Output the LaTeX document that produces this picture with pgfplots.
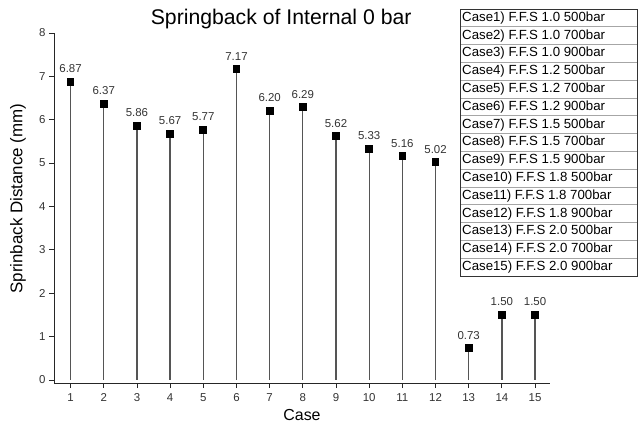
\documentclass[border=0pt]{standalone}
\usepackage{fontspec}
\setmainfont{Liberation Sans}
\usepackage{pgfplots}
\pgfplotsset{compat=1.18}
\usepackage{pgfplotstable}

\definecolor{stem}{HTML}{555555}
\definecolor{tick}{HTML}{333333}

% springback distance per case (mm)
\pgfplotstableread{
case dist
1  6.87
2  6.37
3  5.86
4  5.67
5  5.77
6  7.17
7  6.20
8  6.29
9  5.62
10 5.33
11 5.16
12 5.02
13 0.73
14 1.50
15 1.50
}\springback

\begin{document}
\begin{tikzpicture}
\path[use as bounding box] (-54bp,-44bp) rectangle (588bp,383bp);
\begin{axis}[
  scale only axis,
  width=496bp, height=350bp,
  xmin=0.5, xmax=15.45,
  ymin=-0.07, ymax=8,
  axis x line*=bottom, axis y line*=left,
  axis line style={-, line width=0.9bp, black!85},
  xtick={1,...,15}, ytick={0,...,8},
  tick align=outside,
  major tick length=5bp,
  tick style={line width=0.8bp, black!85},
  /pgf/number format/assume math mode=true,
  tick label style={font=\fontsize{11.5}{13}\selectfont, text=tick},
  xticklabel style={yshift=-2bp},
  title={Springback of Internal 0 bar},
  title style={font=\fontsize{21.3}{24}\selectfont, at={(axis description cs:0.458,1)}, anchor=base, yshift=3bp},
  xlabel={Case},
  xlabel style={font=\fontsize{16}{18}\selectfont, at={(axis description cs:0.5,-0.0914)}, anchor=center},
  ylabel={Sprinback Distance (mm)},
  ylabel style={font=\fontsize{17}{19}\selectfont, at={(axis description cs:-0.0726,0.527)}, anchor=center},
  clip=false,
]
\addplot+[ycomb, draw=stem, line width=1.3bp,
  mark=square*, mark size=3.2bp, mark options={draw=black, fill=black, solid},
  point meta=explicit,
  nodes near coords={\pgfmathprintnumber[fixed,fixed zerofill,precision=2]{\pgfplotspointmeta}},
  every node near coord/.append style={font=\fontsize{11.5}{13}\selectfont, text=tick, anchor=south, yshift=5bp},
] table[x=case, y=dist, meta=dist] {\springback};
\end{axis}
% case list box
\begin{scope}[font=\fontsize{13.3}{15}\selectfont]
\foreach \i in {1,...,14}
  \draw[gray!70, line width=0.6bp] (406bp,374bp-\i*17.8bp) -- (583bp,374bp-\i*17.8bp);
\foreach \t [count=\i] in {Case1) F.F.S 1.0 500bar, Case2) F.F.S 1.0 700bar, Case3) F.F.S 1.0 900bar,
  Case4) F.F.S 1.2 500bar, Case5) F.F.S 1.2 700bar, Case6) F.F.S 1.2 900bar,
  Case7) F.F.S 1.5 500bar, Case8) F.F.S 1.5 700bar, Case9) F.F.S 1.5 900bar,
  Case10) F.F.S 1.8 500bar, Case11) F.F.S 1.8 700bar, Case12) F.F.S 1.8 900bar,
  Case13) F.F.S 2.0 500bar, Case14) F.F.S 2.0 700bar, Case15) F.F.S 2.0 900bar}
  \node[anchor=west, inner sep=0pt] at (408bp,374bp-\i*17.8bp+8.9bp) {\t};
\draw[black!80, line width=0.9bp] (406bp,374bp) rectangle (583bp,374bp-15*17.8bp);
\end{scope}
\end{tikzpicture}
\end{document}
